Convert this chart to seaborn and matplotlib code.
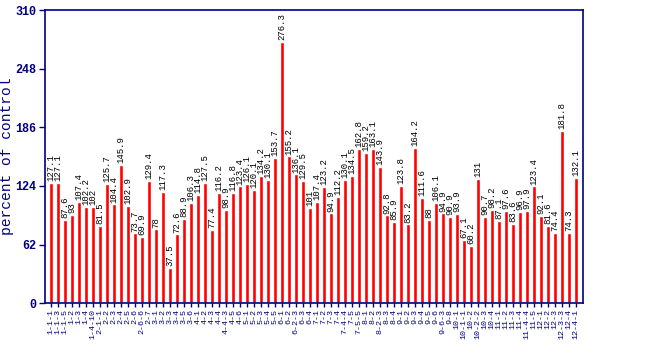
import matplotlib
matplotlib.use("Agg")
import matplotlib.pyplot as plt
import seaborn as sns
import pandas as pd

categories = [
    "1-1-1", "1-1-3", "1-1-5", "1-2", "1-3", "1-4", "1-4-10", "2-1-1", "2-2", "2-3",
    "2-4", "2-5", "2-6", "2-6-6", "2-7", "3-1", "3-2", "3-3", "3-4", "3-5",
    "3-6", "4-1", "4-2", "4-3", "4-4", "4-4-3", "4-5", "4-6", "5-1", "5-2",
    "5-3", "5-4", "5-5", "6-1", "6-2", "6-2-3", "6-3", "6-4", "7-1", "7-2",
    "7-3", "7-4", "7-4-4", "7-5", "7-5-5", "8-1", "8-2", "8-2-3", "8-3", "8-4",
    "9-1", "9-2", "9-3", "9-4", "9-5", "9-6", "9-6-3", "9-8", "10-1", "10-1-1",
    "10-2", "10-2-2", "10-3", "10-4", "11-1", "11-2", "11-3", "11-4", "11-4-4", "11-5",
    "12-1", "12-2", "12-3", "12-3-3", "12-4", "12-4-1",
]
values = [
    127.1, 127.1, 87.6, 93, 107.4, 102.2, 102, 81.5, 125.7, 104.4,
    145.9, 102.9, 73.7, 69.9, 129.4, 78, 117.3, 37.5, 72.6, 88.9,
    106.3, 114.8, 127.5, 77.4, 116.2, 98.9, 116.8, 123.4, 126.1, 120.1,
    134.2, 130.1, 153.7, 276.3, 155.2, 136.1, 129.5, 101, 107.4, 123.2,
    94.9, 112.2, 130.1, 134.5, 162.8, 159.2, 163.1, 143.9, 92.8, 85.9,
    123.8, 83.2, 164.2, 111.6, 88, 106.1, 94.9, 90.9, 93.9, 67.1,
    60.2, 131, 90.7, 98.2, 87.1, 97.6, 83.6, 96.9, 97.9, 123.4,
    92.1, 81.6, 74.4, 181.8, 74.3, 132.1,
]
yticks = [0, 62, 124, 186, 248, 310]

navy = "#000080"
sns.set_style("white")
plt.rcParams["font.family"] = ["Liberation Mono", "DejaVu Sans Mono"]

df = pd.DataFrame({"cat": categories, "val": values})

fig = plt.figure(figsize=(6.5, 3.5), dpi=100)
ax = fig.add_axes([0.069, 0.134, 0.828, 0.837])
sns.barplot(data=df, x="cat", y="val", color="#ff0000", width=0.5,
            saturation=1, ax=ax, order=categories)

for i, v in enumerate(values):
    lab = f"{v:g}"
    ax.text(i, v + 2, lab, rotation=90, ha="center", va="bottom",
            fontsize=6.5, color="black")

ax.set_ylim(0, 310)
ax.set_xlim(-0.9, 76.0)
ax.set_yticks(yticks)
ax.set_yticklabels([str(t) for t in yticks], fontsize=8.5, fontweight="bold", color=navy)
ax.set_xticks(range(len(categories)))
ax.set_xticklabels(categories, rotation=90, fontsize=6, color=navy)
ax.tick_params(axis="y", length=4, color=navy, width=1, left=True, pad=2)
ax.tick_params(axis="x", length=3, color=navy, width=1, bottom=True, pad=1)
ax.set_xlabel("")
ax.set_ylabel("percent of control", fontsize=10.5, color=navy)
ax.yaxis.set_label_coords(-0.058, 0.5)
for s in ax.spines.values():
    s.set_color(navy)
    s.set_linewidth(1.2)

fig.savefig("out.png", dpi=100)
